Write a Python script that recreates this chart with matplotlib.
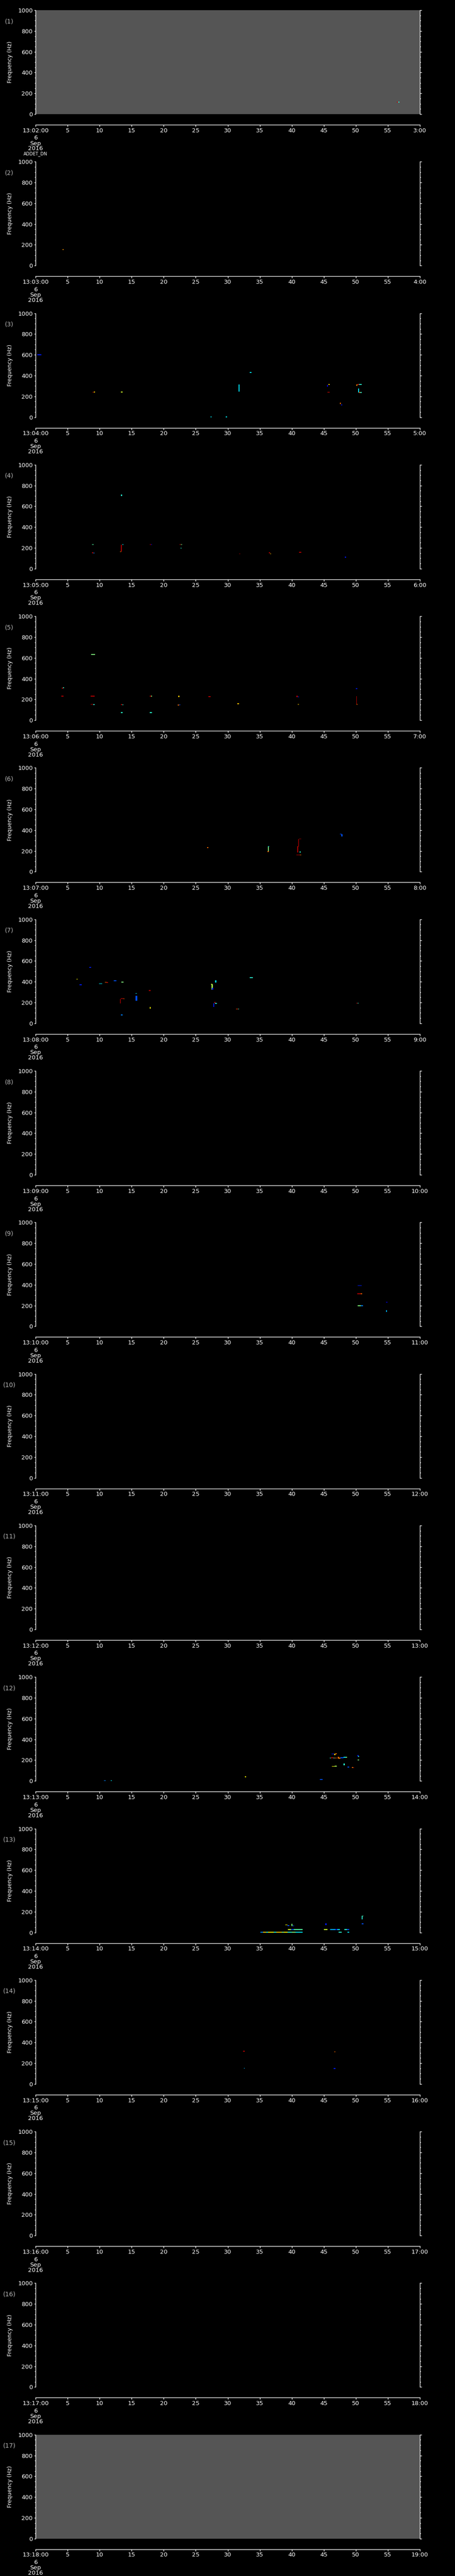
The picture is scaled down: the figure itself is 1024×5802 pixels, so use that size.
import matplotlib
matplotlib.use("Agg")
import matplotlib.pyplot as plt
from matplotlib.ticker import MultipleLocator

# marks: (t_start s, t_end s, f_low Hz, f_high Hz, level 0..1)
marks_01 = [(56.4, 56.6, 113, 121, 0.95), (56.6, 56.8, 113, 121, 0.4)]
marks_02 = [(4.2, 4.4, 150, 158, 0.75)]
marks_03 = [(0.3, 0.9, 596, 602, 0.15), (8.9, 9.1, 236, 242, 0.95), (9.1, 9.3, 238, 244, 0.7),
            (13.3, 13.6, 236, 244, 0.6), (31.7, 31.85, 247, 315, 0.35), (33.4, 33.7, 426, 434, 0.35),
            (27.3, 27.5, 0, 6, 0.35), (29.7, 29.9, 0, 6, 0.35), (45.7, 45.9, 309, 317, 0.7),
            (45.5, 45.65, 293, 311, 0.1), (45.6, 45.9, 236, 243, 0.9), (47.5, 47.65, 128, 140, 0.8),
            (47.7, 47.85, 112, 124, 0.15), (50.2, 50.5, 309, 317, 0.95), (50.5, 50.9, 311, 317, 0.4),
            (50.1, 50.2, 303, 313, 0.75), (50.35, 50.5, 238, 275, 0.35), (50.5, 50.7, 234, 241, 0.8),
            (50.7, 50.9, 234, 241, 0.4)]
marks_04 = [(13.3, 13.5, 700, 712, 0.4), (8.8, 9.1, 229, 235, 0.45), (8.8, 9.0, 151, 157, 0.95),
            (9.0, 9.2, 148, 154, 0.25), (13.3, 13.45, 166, 232, 0.95), (13.2, 13.4, 160, 168, 0.8),
            (13.5, 13.7, 229, 235, 0.35), (17.8, 18.0, 229, 235, 0.95), (18.0, 18.2, 229, 235, 0.1),
            (22.5, 22.7, 229, 235, 0.95), (22.7, 22.9, 229, 235, 0.5), (22.6, 22.8, 195, 201, 0.4),
            (31.8, 32.0, 139, 145, 1.0), (36.4, 36.6, 150, 157, 0.95), (36.6, 36.7, 139, 145, 0.7),
            (41.1, 41.5, 153, 159, 0.95), (48.3, 48.5, 106, 114, 0.15)]
marks_05 = [(4.1, 4.3, 306, 314, 0.95), (4.3, 4.4, 309, 317, 0.4), (4.0, 4.4, 227, 234, 0.95),
            (8.6, 9.2, 228, 234, 0.95), (8.7, 9.3, 629, 636, 0.5), (8.6, 9.0, 149, 155, 0.95),
            (9.0, 9.2, 146, 154, 0.4), (13.3, 13.5, 147, 155, 0.95), (13.5, 13.7, 145, 151, 0.4),
            (13.3, 13.6, 70, 77, 0.4), (17.8, 18.2, 70, 77, 0.4), (17.8, 18.0, 228, 234, 0.95),
            (18.0, 18.2, 228, 234, 0.5), (22.3, 22.5, 222, 234, 0.7), (22.2, 22.4, 140, 150, 0.8),
            (22.4, 22.6, 145, 152, 0.2), (27.0, 27.3, 224, 230, 0.95), (31.5, 31.8, 153, 163, 0.7),
            (40.7, 40.9, 224, 234, 0.95), (40.9, 41.1, 222, 228, 0.15), (40.9, 41.1, 149, 155, 0.7),
            (50.0, 50.2, 302, 310, 0.15), (50.05, 50.15, 152, 231, 0.95), (50.1, 50.3, 149, 156, 0.8)]
marks_06 = [(26.8, 27.0, 229, 235, 0.8), (36.25, 36.4, 195, 242, 0.5), (36.2, 36.4, 190, 197, 0.8),
            (36.3, 36.5, 240, 246, 0.35), (41.1, 41.5, 313, 319, 1.0), (41.0, 41.1, 243, 316, 1.0),
            (40.85, 41.0, 185, 245, 0.95), (41.2, 41.4, 186, 194, 0.4), (40.7, 41.3, 159, 165, 0.95),
            (41.3, 41.5, 159, 165, 0.8), (47.5, 47.8, 360, 366, 0.2), (47.75, 47.9, 340, 362, 0.2)]
marks_07 = [(8.4, 8.7, 532, 540, 0.15), (6.4, 6.6, 420, 428, 0.65), (6.9, 7.2, 367, 373, 0.15),
            (9.9, 10.4, 378, 385, 0.35), (10.8, 11.1, 391, 397, 0.8), (11.1, 11.3, 389, 395, 0.95),
            (12.2, 12.6, 405, 415, 0.2), (13.4, 13.7, 392, 398, 0.5), (17.7, 18.0, 311, 317, 0.95),
            (15.6, 15.8, 284, 290, 0.35), (15.6, 15.85, 219, 262, 0.2), (13.2, 13.35, 193, 236, 1.0),
            (13.3, 13.7, 234, 239, 1.0), (13.7, 13.9, 233, 239, 0.8), (17.8, 17.95, 138, 157, 0.65),
            (13.3, 13.6, 76, 82, 0.25), (28.0, 28.2, 392, 413, 0.35), (27.4, 27.6, 372, 380, 0.6),
            (27.5, 27.65, 322, 375, 0.55), (27.55, 27.75, 322, 340, 0.15), (27.75, 27.9, 159, 193, 0.15),
            (28.0, 28.3, 189, 196, 0.4), (27.9, 28.1, 195, 201, 0.95), (31.3, 31.6, 135, 141, 0.85),
            (31.6, 31.8, 135, 141, 0.4), (33.4, 33.9, 437, 443, 0.4), (50.1, 50.3, 190, 196, 0.95),
            (50.3, 50.4, 190, 196, 0.4)]
marks_08 = []
marks_09 = [(50.3, 50.9, 389, 396, 0.15), (50.2, 50.8, 309, 315, 0.95), (50.8, 50.95, 309, 315, 0.8),
            (50.3, 50.8, 194, 200, 0.5), (50.8, 51.1, 194, 200, 0.25), (54.7, 54.95, 228, 234, 0.05),
            (54.75, 54.9, 137, 156, 0.3)]
marks_10 = []
marks_11 = []
marks_12 = [(10.7, 10.95, 0, 5, 0.25), (11.7, 11.95, 0, 5, 0.35), (32.7, 32.9, 35, 41, 0.65),
            (44.4, 44.8, 10, 16, 0.2), (46.2, 46.6, 256, 262, 0.15), (46.6, 46.8, 250, 262, 0.7),
            (46.8, 47.0, 257, 262, 0.8), (45.9, 46.1, 218, 224, 0.4), (46.1, 46.5, 218, 226, 0.95),
            (46.5, 46.7, 218, 224, 0.45), (46.7, 47.0, 218, 222, 0.8), (47.2, 47.35, 215, 232, 0.8),
            (47.35, 47.55, 216, 222, 0.75), (47.6, 48.1, 220, 229, 0.2), (48.1, 48.4, 225, 231, 0.35),
            (48.4, 48.6, 225, 230, 0.5), (50.25, 50.4, 237, 251, 0.15), (50.35, 50.5, 232, 238, 0.4),
            (50.3, 50.5, 198, 204, 0.5), (48.1, 48.3, 149, 166, 0.4), (46.3, 46.7, 137, 143, 0.65),
            (46.7, 47.0, 139, 145, 0.55), (48.7, 49.0, 131, 137, 0.2), (49.4, 49.6, 127, 133, 0.8),
            (49.6, 49.7, 124, 130, 0.95)]
marks_13 = [(35.1, 35.5, 0, 5, 0.25), (35.5, 36.0, 0, 5, 0.7), (36.0, 36.3, 0, 5, 0.4),
            (36.3, 37.2, 0, 5, 0.65), (37.2, 37.6, 0, 5, 0.4), (37.6, 38.4, 0, 5, 0.7),
            (38.4, 38.8, 0, 5, 0.5), (38.8, 39.3, 0, 5, 0.65), (39.3, 40.0, 0, 5, 0.4),
            (40.0, 40.6, 0, 5, 0.5), (40.6, 41.7, 0, 5, 0.35), (39.4, 39.9, 24, 29, 0.6),
            (39.9, 40.3, 24, 29, 0.2), (40.3, 41.7, 24, 29, 0.45), (39.0, 39.3, 70, 76, 0.65),
            (39.3, 39.6, 60, 70, 0.2), (39.95, 40.1, 64, 84, 0.5), (40.1, 40.4, 61, 67, 0.2),
            (45.2, 45.4, 70, 88, 0.15), (45.0, 45.6, 24, 29, 0.6), (46.0, 46.8, 24, 29, 0.3),
            (46.8, 47.1, 24, 31, 0.15), (47.1, 47.5, 24, 29, 0.35), (48.2, 48.6, 24, 29, 0.4),
            (48.6, 49.0, 24, 29, 0.2), (47.3, 47.8, 0, 5, 0.4), (48.7, 49.0, 0, 5, 0.35),
            (50.9, 51.05, 127, 160, 0.4), (51.0, 51.2, 155, 162, 0.45), (50.9, 51.2, 79, 85, 0.2)]
marks_14 = [(32.4, 32.7, 311, 317, 0.95), (32.5, 32.7, 147, 153, 0.3), (46.6, 46.8, 306, 312, 0.8),
            (46.55, 46.8, 146, 154, 0.15)]
marks_15 = []
marks_16 = []
marks_17 = []

panel_marks = [marks_01, marks_02, marks_03, marks_04, marks_05, marks_06, marks_07, marks_08,
               marks_09, marks_10, marks_11, marks_12, marks_13, marks_14, marks_15, marks_16, marks_17]
start_minutes = list(range(2, 19))     # 13:02 .. 13:18
no_data_panels = [1, 17]               # grey (no data) background
hour = 13
date_lines = ["6", "Sep", "2016"]

W, H = 1024, 5802
n = len(panel_marks)
block = H / n
px = 72 / 100.0   # points per pixel

fig = plt.figure(figsize=(W / 100, H / 100), dpi=100, facecolor="black")
cmap = plt.get_cmap("jet")

for i in range(n):
    top = i * block
    ax = fig.add_axes([80 / W, 1 - (top + 257) / H, 865 / W, 234 / H])
    ax.set_facecolor("#555555" if (i + 1) in no_data_panels else "black")
    ax.set_xlim(0, 60)
    ax.set_ylim(0, 1000)

    for t0, t1, f0, f1, v in panel_marks[i]:
        ax.bar(t0, max(f1 - f0, 7), width=max(t1 - t0, 0.13), bottom=f0, align="edge",
               color=cmap(v), linewidth=0)

    for s in ["left", "right", "bottom"]:
        ax.spines[s].set_color("white")
        ax.spines[s].set_linewidth(1.0)
    ax.spines["top"].set_visible(False)
    ax.spines["bottom"].set_position(("outward", 24 * px))

    ax.yaxis.set_major_locator(MultipleLocator(200))
    ax.yaxis.set_minor_locator(MultipleLocator(50))
    ax.tick_params(axis="y", which="both", left=True, right=True, direction="out",
                   colors="white", width=1.0, labelsize=9.5, pad=2)
    ax.tick_params(axis="y", which="major", length=3.5 * px)
    ax.tick_params(axis="y", which="minor", length=2.5 * px)

    m = start_minutes[i]
    ticks = list(range(0, 61, 5))
    labels = [f"{hour}:{m:02d}:00"] + [str(t) for t in ticks[1:-1]] + [f"{m + 1}:00"]
    ax.set_xticks(ticks)
    ax.set_xticklabels(labels)
    ax.tick_params(axis="x", which="major", direction="out", length=4 * px, width=1.0,
                   colors="white", labelsize=9.5, pad=2)

    fig.text(21 / W, 1 - (top + 48) / H, f"({i + 1})", color="#b4b4b4", fontsize=10,
             ha="center", va="center")
    fig.text(23 / W, 1 - (top + 140) / H, "Frequency (Hz)", color="white", fontsize=9,
             rotation=90, ha="center", va="center")
    for j, s in enumerate(date_lines):
        fig.text(80 / W, 1 - (top + 311 + 12 * j) / H, s, color="white", fontsize=9.5,
                 ha="center", va="center")

fig.text(80 / W, 1 - 347 / H, "ADDET_DN", color="white", fontsize=7, ha="center", va="center")

fig.savefig("out.png", dpi=100, facecolor="black")
